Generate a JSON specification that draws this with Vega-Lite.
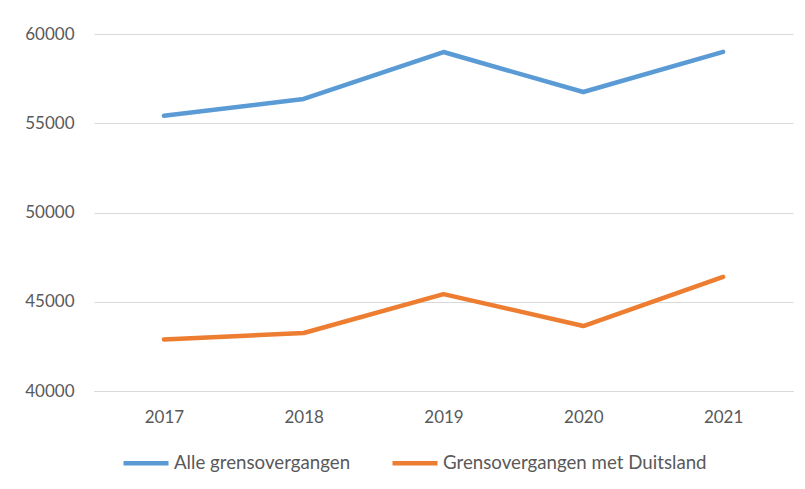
{
  "$schema": "https://vega.github.io/schema/vega-lite/v6.json",
  "width": 699,
  "height": 357,
  "padding": {"left": 24, "top": 25, "right": 13, "bottom": 10},
  "background": "white",
  "config": {
    "view": {"stroke": null},
    "font": "Lato",
    "axis": {"labelColor": "#595959", "labelFont": "Lato", "labelFontSize": 17},
    "legend": {"labelColor": "#595959", "labelFont": "Lato", "labelFontSize": 18.7}
  },
  "data": {
    "values": [
      {"jaar": "2017", "reeks": "Alle grensovergangen", "waarde": 55420},
      {"jaar": "2018", "reeks": "Alle grensovergangen", "waarde": 56360},
      {"jaar": "2019", "reeks": "Alle grensovergangen", "waarde": 58990},
      {"jaar": "2020", "reeks": "Alle grensovergangen", "waarde": 56750},
      {"jaar": "2021", "reeks": "Alle grensovergangen", "waarde": 59000},
      {"jaar": "2017", "reeks": "Grensovergangen met Duitsland", "waarde": 42890},
      {"jaar": "2018", "reeks": "Grensovergangen met Duitsland", "waarde": 43250},
      {"jaar": "2019", "reeks": "Grensovergangen met Duitsland", "waarde": 45430},
      {"jaar": "2020", "reeks": "Grensovergangen met Duitsland", "waarde": 43640},
      {"jaar": "2021", "reeks": "Grensovergangen met Duitsland", "waarde": 46390}
    ]
  },
  "mark": {"type": "line", "strokeWidth": 4.5, "strokeCap": "round", "strokeJoin": "round"},
  "encoding": {
    "x": {
      "field": "jaar", "type": "ordinal", "title": null,
      "scale": {"type": "point", "padding": 0.5},
      "axis": {"labelAngle": 0, "domain": true, "domainColor": "#d9d9d9", "ticks": false, "grid": false, "labelPadding": 18}
    },
    "y": {
      "field": "waarde", "type": "quantitative", "title": null,
      "scale": {"domain": [40000, 60000], "nice": false, "zero": false},
      "axis": {"values": [40000, 45000, 50000, 55000, 60000], "format": "d", "domain": false, "ticks": false, "gridColor": "#d9d9d9", "gridWidth": 1.2, "labelPadding": 20}
    },
    "color": {
      "field": "reeks", "type": "nominal", "title": null,
      "scale": {"domain": ["Alle grensovergangen", "Grensovergangen met Duitsland"], "range": ["#5B9BD5", "#ED7D31"]},
      "legend": {"orient": "none", "legendX": 27, "legendY": 404, "direction": "horizontal", "symbolType": "stroke", "symbolSize": 2025, "symbolStrokeWidth": 4.5, "labelOffset": 3, "columnPadding": 32, "labelLimit": 0}
    }
  }
}
